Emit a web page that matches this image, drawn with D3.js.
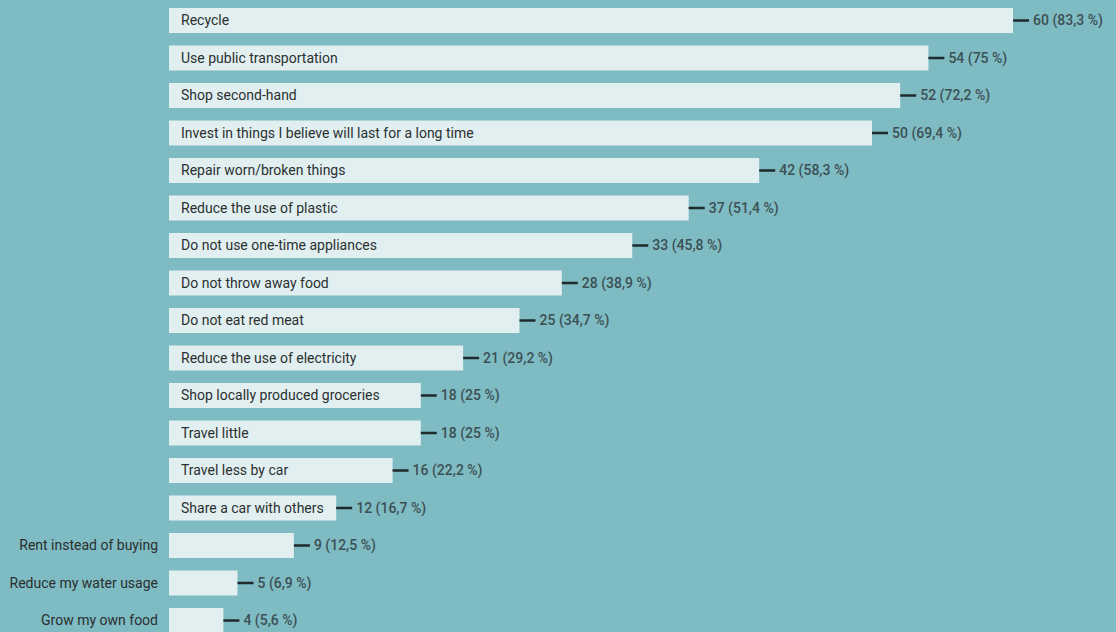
<!DOCTYPE html>
<html>
<head>
<meta charset="utf-8">
<script src="https://cdn.jsdelivr.net/npm/d3@7"></script>
<style>
  html, body { margin: 0; padding: 0; background: #7fbbc2; }
  svg { display: block; }
  text { font-family: Roboto, "Noto Sans", sans-serif; }
</style>
</head>
<body>
<div id="chart"></div>
<script>
// answers, count and share of respondents
const labels = [
  'Recycle',
  'Use public transportation',
  'Shop second-hand',
  'Invest in things I believe will last for a long time',
  'Repair worn/broken things',
  'Reduce the use of plastic',
  'Do not use one-time appliances',
  'Do not throw away food',
  'Do not eat red meat',
  'Reduce the use of electricity',
  'Shop locally produced groceries',
  'Travel little',
  'Travel less by car',
  'Share a car with others',
  'Rent instead of buying',
  'Reduce my water usage',
  'Grow my own food'
];
const counts = [60, 54, 52, 50, 42, 37, 33, 28, 25, 21, 18, 18, 16, 12, 9, 5, 4];
const shares = ['83,3', '75', '72,2', '69,4', '58,3', '51,4', '45,8', '38,9', '34,7', '29,2', '25', '25', '22,2', '16,7', '12,5', '6,9', '5,6'];

const width = 1116;
const height = 632;
const barStart = 169;

const rows = labels.map((d, i) => ({label: d, count: counts[i], share: shares[i]}));

const svg = d3.select('#chart')
  .append('svg')
  .attr('width', width)
  .attr('height', height);

svg.append('rect')
  .attr('width', width)
  .attr('height', height)
  .attr('fill', '#7fbbc2');

const x = d3.scaleLinear()
  .domain([0, 60])
  .range([167, 1013]);

const y = d3.scaleBand()
  .domain(labels)
  .range([8, 633])
  .paddingInner(1 / 3)
  .paddingOuter(0);

const g = svg.selectAll('g.row')
  .data(rows)
  .join('g')
  .attr('class', 'row')
  .attr('transform', d => `translate(0,${y(d.label)})`);

g.append('rect')
  .attr('x', barStart)
  .attr('width', d => x(d.count) - barStart)
  .attr('height', y.bandwidth())
  .attr('fill', '#e2eff0');

// little leader line before the value
g.append('line')
  .attr('x1', d => x(d.count))
  .attr('x2', d => x(d.count) + 16)
  .attr('y1', y.bandwidth() / 2)
  .attr('y2', y.bandwidth() / 2)
  .attr('stroke', '#1e2a2c')
  .attr('stroke-width', 2.5);

g.append('text')
  .attr('x', d => x(d.count) + 20)
  .attr('y', y.bandwidth() / 2)
  .attr('dy', '0.35em')
  .attr('font-size', 14)
  .attr('font-weight', 500)
  .attr('fill', '#3b5054')
  .text(d => `${d.count} (${d.share} %)`);

const lab = g.append('text')
  .attr('y', y.bandwidth() / 2)
  .attr('dy', '0.35em')
  .attr('font-size', 14)
  .attr('fill', '#2b2f30')
  .text(d => d.label);

// label inside the bar if it fits, else to the left of the axis
lab.each(function(d) {
  const w = this.getComputedTextLength();
  const inside = w + 24 < x(d.count) - barStart;
  d3.select(this)
    .attr('x', inside ? barStart + 12 : barStart - 11)
    .attr('text-anchor', inside ? 'start' : 'end');
});
</script>
</body>
</html>
